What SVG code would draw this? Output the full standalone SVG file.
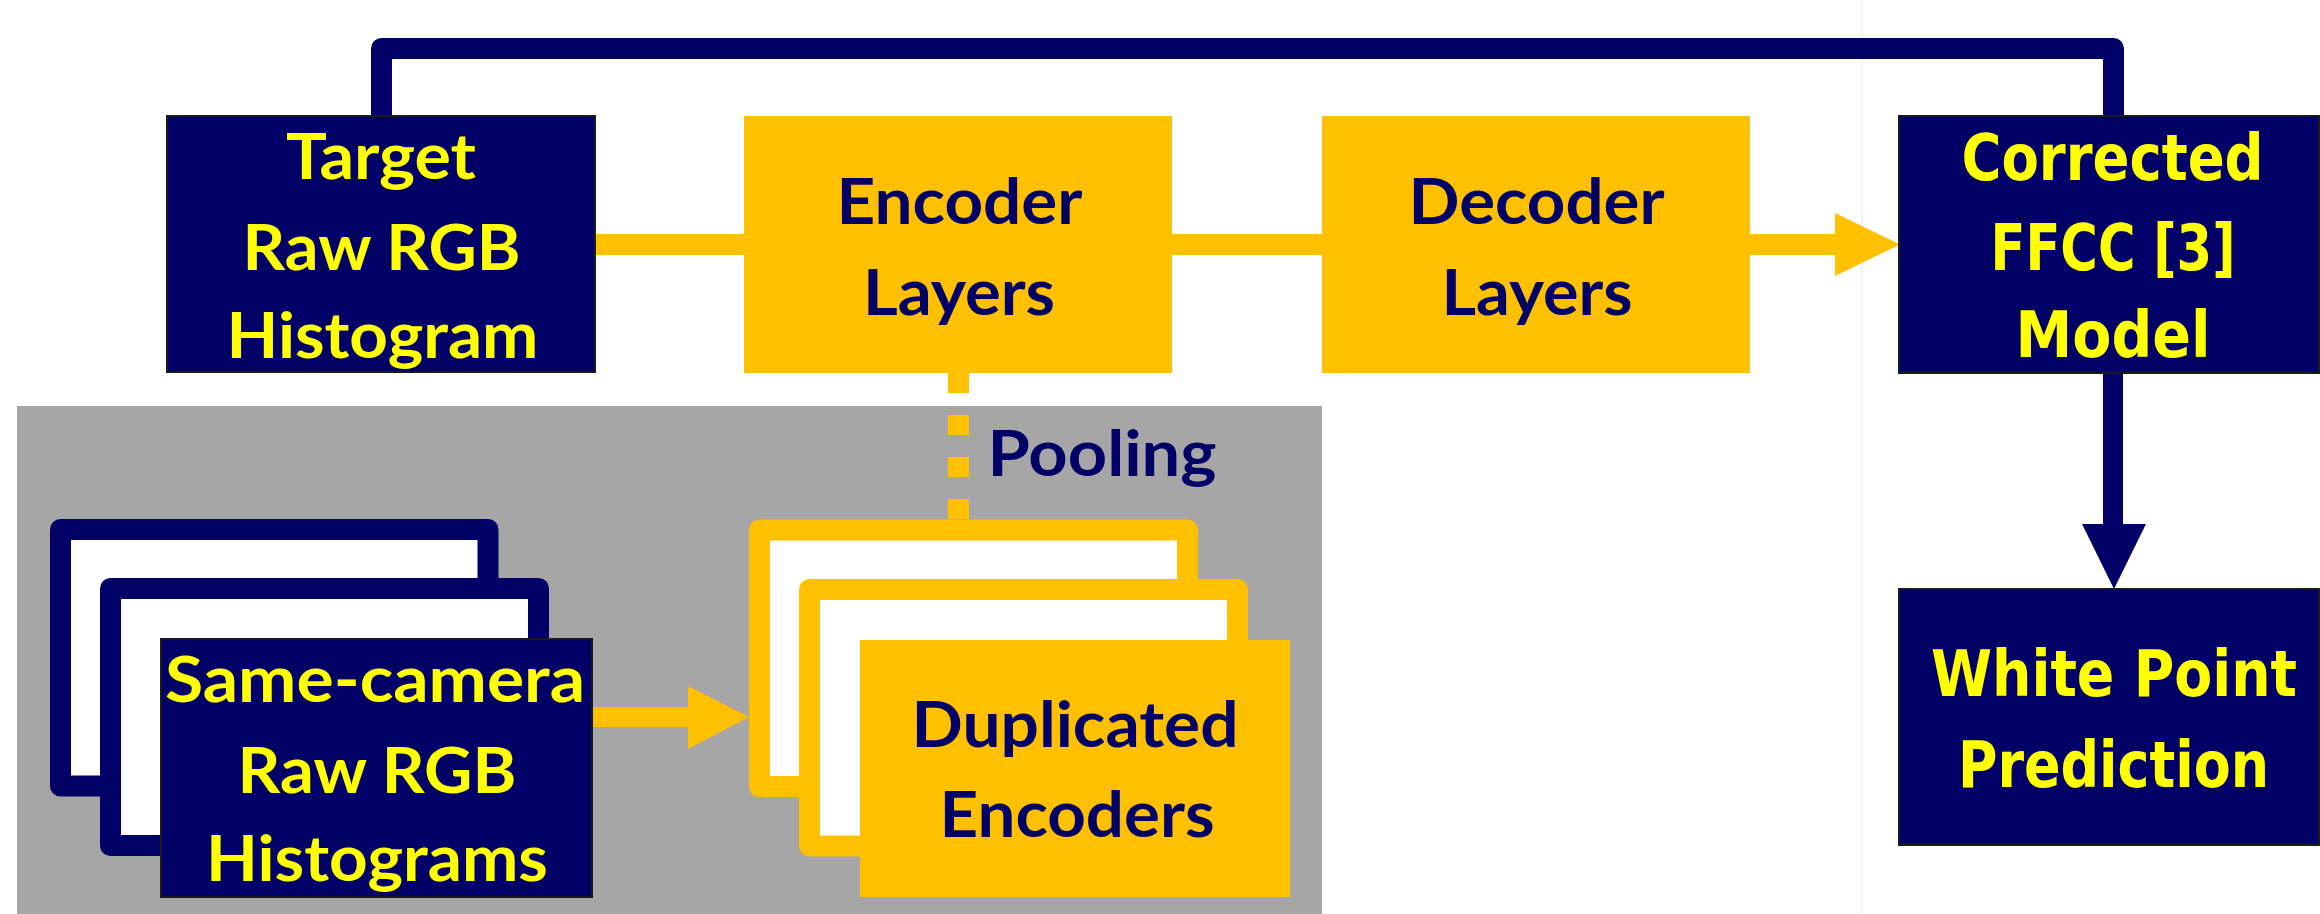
<svg xmlns="http://www.w3.org/2000/svg" width="2320" height="914" viewBox="0 0 2320 914">
<style>
.navy{fill:#000066;stroke:#1a1a1a;stroke-width:2}
.gold{fill:#FFC000}
.frameN{fill:#ffffff;stroke:#000066;stroke-width:21;stroke-linejoin:round}
.frameG{fill:#ffffff;stroke:#FFC000;stroke-width:21;stroke-linejoin:round}
.tc{font-family:Lato,"Open Sans","Liberation Sans",sans-serif;font-weight:bold;font-size:64px;text-anchor:middle}
.tv{font-family:"DejaVu Sans Condensed","DejaVu Sans",Verdana,sans-serif;font-weight:bold;font-size:64px;text-anchor:middle;fill:#FFFF00}
.y{fill:#FFFF00}
.n{fill:#000066}
</style>
<rect x="0" y="0" width="2320" height="914" fill="#ffffff"/>
<line x1="1862" y1="0" x2="1862" y2="914" stroke="#f3f3f5" stroke-width="2"/>
<rect id="bg-panel" x="17" y="406" width="1305" height="508" fill="#A6A6A6"/>

<g id="connectors">
<path d="M381.5,116 V48.5 H2113.5 V116" fill="none" stroke="#000066" stroke-width="21" stroke-linejoin="round"/>
<line x1="595" y1="244.5" x2="1836" y2="244.5" stroke="#FFC000" stroke-width="21"/>
<polygon points="1835,213 1835,276 1900,244.5" fill="#FFC000"/>
<line x1="958.5" y1="373" x2="958.5" y2="520" stroke="#FFC000" stroke-width="21" stroke-dasharray="20 22"/>
<line x1="592" y1="717" x2="689" y2="717" stroke="#FFC000" stroke-width="20"/>
<polygon points="688,686 688,749 749,717" fill="#FFC000"/>
<line x1="2113" y1="373" x2="2113" y2="525" stroke="#000066" stroke-width="20"/>
<polygon points="2082,524 2146,524 2114,589" fill="#000066"/>
</g>

<g id="target">
<rect class="navy" x="167" y="116" width="428" height="256"/>
<text class="tc y" x="381" y="179" textLength="190" lengthAdjust="spacingAndGlyphs">Target</text>
<text class="tc y" x="381.5" y="270" textLength="278" lengthAdjust="spacingAndGlyphs">Raw RGB</text>
<text class="tc y" x="382.5" y="358" textLength="312" lengthAdjust="spacingAndGlyphs">Histogram</text>
</g>

<g id="encoder">
<rect class="gold" x="744" y="116" width="428" height="257"/>
<text class="tc n" x="959.5" y="224" textLength="246" lengthAdjust="spacingAndGlyphs">Encoder</text>
<text class="tc n" x="959" y="315" textLength="192" lengthAdjust="spacingAndGlyphs">Layers</text>
</g>

<g id="decoder">
<rect class="gold" x="1322" y="116" width="428" height="257"/>
<text class="tc n" x="1536.5" y="224" textLength="256" lengthAdjust="spacingAndGlyphs">Decoder</text>
<text class="tc n" x="1537" y="315" textLength="191" lengthAdjust="spacingAndGlyphs">Layers</text>
</g>

<g id="ffcc">
<rect class="navy" x="1899" y="116" width="420" height="257"/>
<text class="tv" x="2112.5" y="179.5" textLength="302" lengthAdjust="spacingAndGlyphs">Corrected</text>
<text class="tv" x="2113" y="270" textLength="245" lengthAdjust="spacingAndGlyphs">FFCC [3]</text>
<text class="tv" x="2113" y="357" textLength="195" lengthAdjust="spacingAndGlyphs">Model</text>
</g>

<g id="whitepoint">
<rect class="navy" x="1899" y="589" width="420" height="256"/>
<text class="tv" x="2114" y="696" textLength="366" lengthAdjust="spacingAndGlyphs">White Point</text>
<text class="tv" x="2113.5" y="787" textLength="311" lengthAdjust="spacingAndGlyphs">Prediction</text>
</g>

<g id="pooling-label">
<text class="tc n" x="1102" y="475.5" textLength="229" lengthAdjust="spacingAndGlyphs">Pooling</text>
</g>

<g id="same-camera">
<rect class="frameN" x="60.5" y="529.5" width="427.5" height="256.5"/>
<rect class="frameN" x="110.5" y="588.5" width="428" height="257"/>
<rect class="navy" x="161" y="639" width="431" height="258"/>
<text class="tc y" x="375" y="702" textLength="420" lengthAdjust="spacingAndGlyphs">Same-camera</text>
<text class="tc y" x="377" y="793" textLength="279" lengthAdjust="spacingAndGlyphs">Raw RGB</text>
<text class="tc y" x="377" y="881" textLength="342" lengthAdjust="spacingAndGlyphs">Histograms</text>
</g>

<g id="duplicated">
<rect class="frameG" x="759.5" y="530" width="428" height="256.5"/>
<rect class="frameG" x="809.5" y="589.5" width="428" height="256.5"/>
<rect class="gold" x="860" y="640" width="430" height="257"/>
<text class="tc n" x="1075" y="747" textLength="327" lengthAdjust="spacingAndGlyphs">Duplicated</text>
<text class="tc n" x="1077" y="837" textLength="275" lengthAdjust="spacingAndGlyphs">Encoders</text>
</g>
</svg>
